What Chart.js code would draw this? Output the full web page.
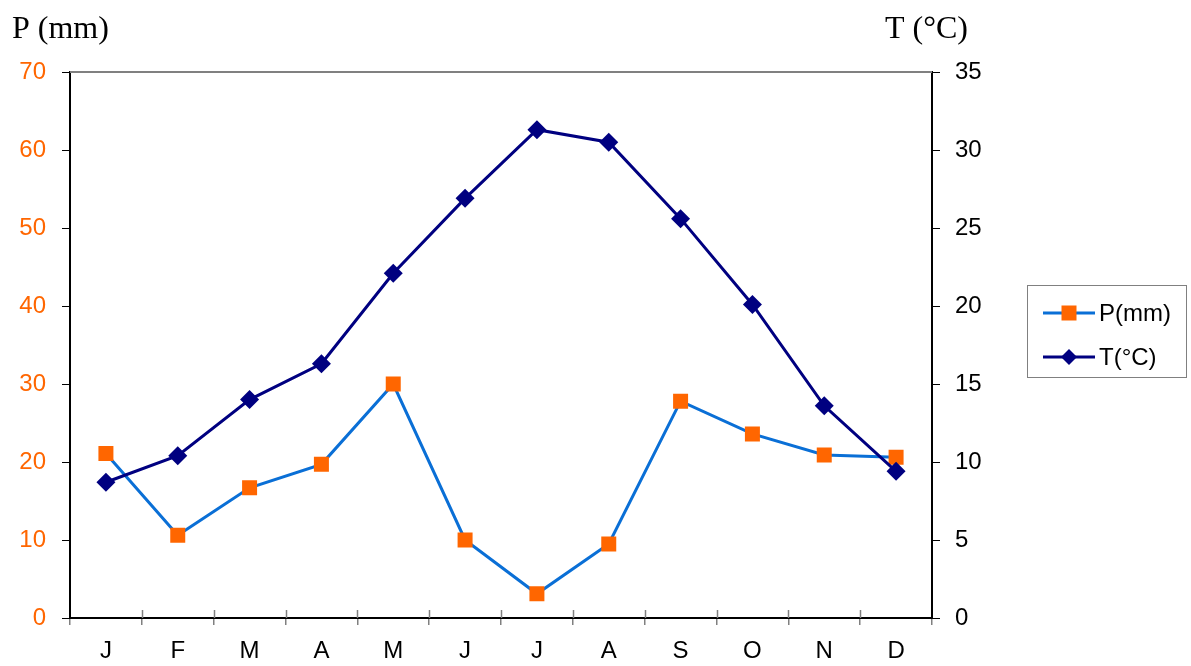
<!DOCTYPE html>
<html>
<head>
<meta charset="utf-8">
<script src="https://cdn.jsdelivr.net/npm/chart.js@4"></script>
<style>
  html, body { margin: 0; padding: 0; background: #fff; }
  #wrap { width: 1191px; height: 666px; }
</style>
</head>
<body>
<div id="wrap"><canvas id="chart" width="1191" height="666"></canvas></div>
<script>
// months, precipitation (mm) and temperature (°C)
const months = ['J', 'F', 'M', 'A', 'M', 'J', 'J', 'A', 'S', 'O', 'N', 'D'];
const precip = [21.1, 10.6, 16.7, 19.7, 30.0, 10.0, 3.1, 9.5, 27.8, 23.6, 20.9, 20.6];
const temp = [8.7, 10.4, 14.0, 16.3, 22.1, 26.9, 31.3, 30.5, 25.6, 20.1, 13.6, 9.4];
const precipTicks = [0, 10, 20, 30, 40, 50, 60, 70];
const tempTicks = [0, 5, 10, 15, 20, 25, 30, 35];

const ORANGE = '#FF6600';
const BLUE = '#0A6FD6';
const NAVY = '#000080';
const SANS = "'Liberation Sans', Arial, sans-serif";
const SERIF = "'Liberation Serif', 'Times New Roman', serif";

// extras: top frame line, inner x ticks, axis titles and boxed legend
const framePlugin = {
  id: 'frame',
  afterDraw(chart) {
    const { ctx, chartArea: a } = chart;
    ctx.save();
    ctx.strokeStyle = '#808080';
    ctx.lineWidth = 2;
    ctx.beginPath();
    ctx.moveTo(a.left, a.top);
    ctx.lineTo(a.right, a.top);
    ctx.stroke();

    // x ticks poke into the plot a little too
    const step = (a.right - a.left) / months.length;
    ctx.lineWidth = 1.5;
    for (let i = 1; i < months.length; i++) {
      const px = Math.round(a.left + i * step) + 0.5;
      ctx.beginPath();
      ctx.moveTo(px, a.bottom - 8);
      ctx.lineTo(px, a.bottom);
      ctx.stroke();
    }

    ctx.fillStyle = '#000';
    ctx.font = '32px ' + SERIF;
    ctx.textBaseline = 'alphabetic';
    ctx.textAlign = 'left';
    ctx.fillText('P (mm)', 12, 38);
    ctx.fillText('T (°C)', 885, 38);

    // legend
    ctx.strokeStyle = '#808080';
    ctx.lineWidth = 1;
    ctx.strokeRect(1027.5, 285.5, 159, 92);
    const rows = [
      { label: 'P(mm)', color: BLUE, y: 313, draw: (cx, cy) => { ctx.fillStyle = ORANGE; ctx.fillRect(cx - 7.5, cy - 7.5, 15, 15); } },
      { label: 'T(°C)', color: NAVY, y: 357, draw: (cx, cy) => {
          ctx.fillStyle = NAVY; ctx.beginPath();
          ctx.moveTo(cx, cy - 8); ctx.lineTo(cx + 8, cy); ctx.lineTo(cx, cy + 8); ctx.lineTo(cx - 8, cy);
          ctx.closePath(); ctx.fill(); } }
    ];
    rows.forEach(r => {
      ctx.strokeStyle = r.color;
      ctx.lineWidth = 3;
      ctx.beginPath();
      ctx.moveTo(1043, r.y);
      ctx.lineTo(1095, r.y);
      ctx.stroke();
      r.draw(1069, r.y);
      ctx.fillStyle = '#000';
      ctx.font = '24px ' + SANS;
      ctx.textBaseline = 'middle';
      ctx.fillText(r.label, 1099, r.y + 1);
    });
    ctx.restore();
  }
};

new Chart(document.getElementById('chart'), {
  type: 'line',
  data: {
    labels: months,
    datasets: [
      {
        label: 'T(°C)',
        data: temp,
        yAxisID: 'yT',
        borderColor: NAVY,
        backgroundColor: NAVY,
        borderWidth: 3,
        pointStyle: 'rectRot',
        pointRadius: 9.5,
        pointBorderWidth: 0,
        tension: 0
      },
      {
        label: 'P(mm)',
        data: precip,
        yAxisID: 'yP',
        borderColor: BLUE,
        backgroundColor: ORANGE,
        borderWidth: 3,
        pointStyle: 'rect',
        pointRadius: 10.6,
        pointBorderWidth: 0,
        tension: 0
      }
    ]
  },
  options: {
    responsive: false,
    animation: false,
    layout: { padding: { top: 72, left: 0, right: 0, bottom: 0 } },
    plugins: { legend: { display: false }, tooltip: { enabled: false } },
    scales: {
      x: {
        offset: true,
        afterFit: s => { s.height = 48; },
        grid: { display: true, offset: true, drawOnChartArea: false, drawTicks: true, tickLength: 7, color: '#808080', lineWidth: 1.5 },
        border: { display: true, color: '#000', width: 2 },
        ticks: { color: '#000', font: { family: SANS, size: 24 }, padding: 12, maxRotation: 0, autoSkip: false }
      },
      yP: {
        position: 'left',
        min: 0,
        max: 70,
        afterFit: s => { s.width = 70; },
        afterBuildTicks: s => { s.ticks = precipTicks.map(v => ({ value: v })); },
        grid: { drawOnChartArea: false, drawTicks: true, tickLength: 8, color: '#000', lineWidth: 1 },
        border: { display: true, color: '#000', width: 2 },
        ticks: { color: ORANGE, font: { family: SANS, size: 24 }, padding: 16 }
      },
      yT: {
        position: 'right',
        min: 0,
        max: 35,
        afterFit: s => { s.width = 259; },
        afterBuildTicks: s => { s.ticks = tempTicks.map(v => ({ value: v })); },
        grid: { drawOnChartArea: false, drawTicks: true, tickLength: 8, color: '#000', lineWidth: 1 },
        border: { display: true, color: '#000', width: 2 },
        ticks: { color: '#000', font: { family: SANS, size: 24 }, padding: 15 }
      }
    }
  },
  plugins: [framePlugin]
});
</script>
</body>
</html>
